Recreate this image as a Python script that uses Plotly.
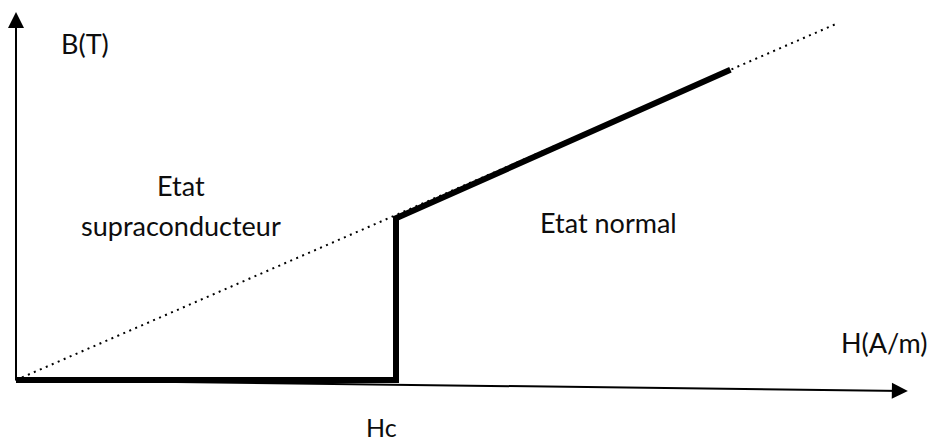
import plotly.graph_objects as go

# curve B(H) of a type I superconductor, in units where Hc = 1
h_dotted = [0, 2.155]
b_dotted = [0, 2.155]

h_path = [0, 1, 1, 1.88]
b_path = [0, 0, 0.98, 1.88]

FONT = "Lato"
TXT = "#0d0d0d"

fig = go.Figure()

fig.add_trace(go.Scatter(
    x=h_dotted, y=b_dotted, mode="lines",
    line=dict(color="black", width=2, dash="2px,4.5px"),
    hoverinfo="skip",
))
fig.add_trace(go.Scatter(
    x=h_path, y=b_path, mode="lines",
    line=dict(color="black", width=6),
    hoverinfo="skip",
))

# axes drawn as arrows
fig.add_annotation(x=0, y=2.23, ax=0, ay=-0.01, xref="x", yref="y",
                   axref="x", ayref="y", text="", showarrow=True,
                   arrowhead=2, arrowsize=1.6, arrowwidth=2, arrowcolor="black")
fig.add_annotation(x=2.347, y=-0.067, ax=-0.005, ay=0, xref="x", yref="y",
                   axref="x", ayref="y", text="", showarrow=True,
                   arrowhead=2, arrowsize=1.6, arrowwidth=2, arrowcolor="black")

labels = [
    ("B(T)", 0.182, 2.04, 27),
    ("Etat", 0.434, 1.18, 27),
    ("supraconducteur", 0.434, 0.935, 27),
    ("Etat normal", 1.558, 0.955, 27),
    ("H(A/m)", 2.285, 0.23, 27),
    ("Hc", 0.963, -0.285, 25),
]
for txt, hx, by, sz in labels:
    fig.add_annotation(x=hx, y=by, text=txt, showarrow=False,
                       font=dict(family=FONT, size=sz, color=TXT))

fig.update_layout(
    width=930, height=441,
    margin=dict(l=0, r=0, t=0, b=0),
    paper_bgcolor="white", plot_bgcolor="white",
    showlegend=False,
    xaxis=dict(range=[-16 / 380, 914 / 380], visible=False, fixedrange=True),
    yaxis=dict(range=[-61 / 165, 380 / 165], visible=False, fixedrange=True),
)

fig.write_html("out.html", config={"displayModeBar": False},
               post_script="document.body.style.margin='0';"
                           "document.body.style.overflow='hidden';")
